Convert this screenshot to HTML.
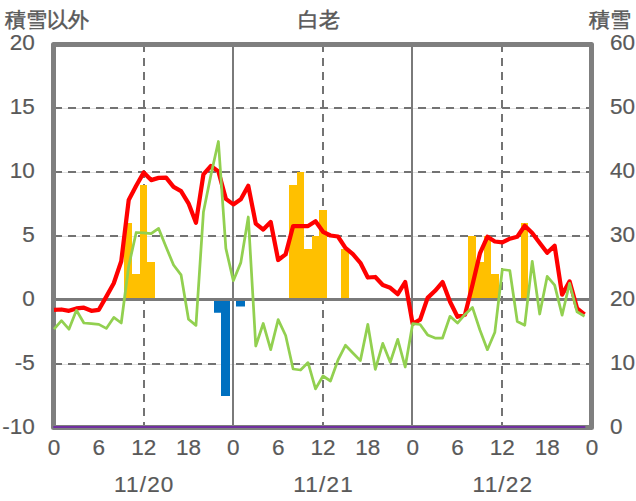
<!DOCTYPE html>
<html><head><meta charset="utf-8"><style>
html,body{margin:0;padding:0;background:#fff;width:636px;height:501px;overflow:hidden;position:relative;font-family:"Liberation Sans",sans-serif;}
</style></head><body>
<svg width="636" height="501" viewBox="0 0 636 501" style="position:absolute;left:0;top:0"><line x1="54.0" y1="108.5" x2="592.0" y2="108.5" stroke="#e0e0e0" stroke-width="1"/><line x1="54.0" y1="172.5" x2="592.0" y2="172.5" stroke="#e0e0e0" stroke-width="1"/><line x1="54.0" y1="236.5" x2="592.0" y2="236.5" stroke="#e0e0e0" stroke-width="1"/><line x1="54.0" y1="364.5" x2="592.0" y2="364.5" stroke="#e0e0e0" stroke-width="1"/><line x1="54.0" y1="108" x2="592.0" y2="108" stroke="#737373" stroke-width="2" stroke-dasharray="8 6"/><line x1="54.0" y1="172" x2="592.0" y2="172" stroke="#737373" stroke-width="2" stroke-dasharray="8 6"/><line x1="54.0" y1="236" x2="592.0" y2="236" stroke="#737373" stroke-width="2" stroke-dasharray="8 6"/><line x1="54.0" y1="364" x2="592.0" y2="364" stroke="#737373" stroke-width="2" stroke-dasharray="8 6"/><line x1="144.00" y1="44" x2="144.00" y2="428" stroke="#737373" stroke-width="2" stroke-dasharray="8 6"/><line x1="323.00" y1="44" x2="323.00" y2="428" stroke="#737373" stroke-width="2" stroke-dasharray="8 6"/><line x1="502.00" y1="44" x2="502.00" y2="428" stroke="#737373" stroke-width="2" stroke-dasharray="8 6"/><polygon points="124.00,300.00 124.00,223.00 132.00,223.00 132.00,274.00 140.00,274.00 140.00,185.00 147.00,185.00 147.00,262.00 155.00,262.00 155.00,300.00" fill="#ffc000"/><polygon points="289.00,300.00 289.00,185.00 297.00,185.00 297.00,172.00 304.00,172.00 304.00,249.00 312.00,249.00 312.00,236.00 319.00,236.00 319.00,210.00 327.00,210.00 327.00,300.00" fill="#ffc000"/><polygon points="341.00,300.00 341.00,249.00 349.00,249.00 349.00,300.00" fill="#ffc000"/><polygon points="468.00,300.00 468.00,236.00 476.00,236.00 476.00,262.00 484.00,262.00 484.00,236.00 491.00,236.00 491.00,274.00 499.00,274.00 499.00,300.00" fill="#ffc000"/><polygon points="521.00,300.00 521.00,223.00 528.00,223.00 528.00,300.00" fill="#ffc000"/><path d="M214 300H221V312.80H214Z M221 300H230V396.00H221Z M236 300H245V306.40H236Z" fill="#0070c0"/><line x1="54.0" y1="299.5" x2="592.0" y2="299.5" stroke="#7a7a7a" stroke-width="3"/><line x1="233.00" y1="44" x2="233.00" y2="428" stroke="#7a7a7a" stroke-width="2"/><line x1="412.00" y1="44" x2="412.00" y2="428" stroke="#7a7a7a" stroke-width="2"/><rect x="53.5" y="44.5" width="538" height="383" fill="none" stroke="#7f7f7f" stroke-width="5" stroke-linejoin="round"/><polyline points="54.00,309.80 61.47,309.50 68.94,310.80 76.42,308.40 83.89,307.70 91.36,310.80 98.83,309.80 106.31,296.60 113.78,283.20 121.25,261.20 128.72,200.00 136.19,185.80 143.67,172.60 151.14,180.10 158.61,177.90 166.08,177.60 173.56,186.80 181.03,191.10 188.50,203.30 195.97,222.80 203.44,174.40 210.92,166.00 218.39,171.40 225.86,198.90 233.33,204.40 240.81,199.20 248.28,185.80 255.75,223.60 263.22,229.60 270.69,222.00 278.17,260.00 285.64,254.40 293.11,226.00 300.58,226.00 308.06,226.00 315.53,221.30 323.00,231.80 330.47,235.50 337.94,236.50 345.42,247.90 352.89,254.20 360.36,262.80 367.83,277.50 375.31,277.00 382.78,285.00 390.25,287.80 397.72,294.20 405.19,282.00 412.67,323.80 420.14,319.60 427.61,297.90 435.08,290.80 442.56,282.10 450.03,301.80 457.50,316.80 464.97,314.80 472.44,285.00 479.92,253.40 487.39,236.80 494.86,241.50 502.33,242.30 509.81,238.70 517.28,236.80 524.75,225.80 532.22,233.00 539.69,243.00 547.17,252.80 554.64,245.80 562.11,294.70 569.58,281.40 577.06,308.30 584.53,314.30" fill="none" stroke="#ff0000" stroke-width="4.25" stroke-linejoin="round" stroke-linecap="butt"/><polyline points="54.00,329.20 61.47,320.70 68.94,329.20 76.42,310.30 83.89,323.00 91.36,323.70 98.83,324.40 106.31,328.40 113.78,317.40 121.25,323.00 128.72,266.00 136.19,232.50 143.67,232.90 151.14,233.70 158.61,228.40 166.08,247.00 173.56,265.00 181.03,274.80 188.50,319.20 195.97,325.40 203.44,212.10 210.92,175.00 218.39,141.50 225.86,248.40 233.33,280.70 240.81,262.60 248.28,217.00 255.75,346.00 263.22,323.50 270.69,349.70 278.17,319.70 285.64,335.50 293.11,369.00 300.58,370.00 308.06,362.60 315.53,388.90 323.00,376.00 330.47,381.00 337.94,360.20 345.42,345.30 352.89,353.00 360.36,360.60 367.83,324.40 375.31,369.30 382.78,343.40 390.25,362.30 397.72,339.40 405.19,367.00 412.67,323.70 420.14,324.50 427.61,334.90 435.08,338.00 442.56,338.00 450.03,316.30 457.50,323.10 464.97,314.40 472.44,307.40 479.92,330.00 487.39,349.70 494.86,332.20 502.33,269.50 509.81,270.50 517.28,321.50 524.75,325.20 532.22,261.30 539.69,314.00 547.17,276.40 554.64,285.20 562.11,315.20 569.58,283.30 577.06,311.80 584.53,316.30" fill="none" stroke="#92d050" stroke-width="2.75" stroke-linejoin="round" stroke-linecap="butt"/><line x1="54.0" y1="427" x2="584.53" y2="427" stroke="#7030a0" stroke-width="2" stroke-linecap="round"/></svg>
<svg width="636" height="501" style="position:absolute;left:0;top:0" font-family="Liberation Sans, sans-serif" fill="#595959"><text x="34.80" y="50.30" text-anchor="end" font-size="22.5" stroke="#595959" stroke-width="0.2">20</text><text x="34.80" y="114.30" text-anchor="end" font-size="22.5" stroke="#595959" stroke-width="0.2">15</text><text x="34.80" y="178.30" text-anchor="end" font-size="22.5" stroke="#595959" stroke-width="0.2">10</text><text x="34.80" y="242.30" text-anchor="end" font-size="22.5" stroke="#595959" stroke-width="0.2">5</text><text x="34.80" y="306.30" text-anchor="end" font-size="22.5" stroke="#595959" stroke-width="0.2">0</text><text x="34.80" y="370.30" text-anchor="end" font-size="22.5" stroke="#595959" stroke-width="0.2">-5</text><text x="34.80" y="434.30" text-anchor="end" font-size="22.5" stroke="#595959" stroke-width="0.2">-10</text><text x="610.00" y="50.30" text-anchor="start" font-size="22.5" stroke="#595959" stroke-width="0.2">60</text><text x="610.00" y="114.30" text-anchor="start" font-size="22.5" stroke="#595959" stroke-width="0.2">50</text><text x="610.00" y="178.30" text-anchor="start" font-size="22.5" stroke="#595959" stroke-width="0.2">40</text><text x="610.00" y="242.30" text-anchor="start" font-size="22.5" stroke="#595959" stroke-width="0.2">30</text><text x="610.00" y="306.30" text-anchor="start" font-size="22.5" stroke="#595959" stroke-width="0.2">20</text><text x="610.00" y="370.30" text-anchor="start" font-size="22.5" stroke="#595959" stroke-width="0.2">10</text><text x="610.00" y="434.30" text-anchor="start" font-size="22.5" stroke="#595959" stroke-width="0.2">0</text><text x="54.00" y="455.20" text-anchor="middle" font-size="22.5" stroke="#595959" stroke-width="0.2">0</text><text x="98.83" y="455.20" text-anchor="middle" font-size="22.5" stroke="#595959" stroke-width="0.2">6</text><text x="143.67" y="455.20" text-anchor="middle" font-size="22.5" stroke="#595959" stroke-width="0.2">12</text><text x="188.50" y="455.20" text-anchor="middle" font-size="22.5" stroke="#595959" stroke-width="0.2">18</text><text x="233.33" y="455.20" text-anchor="middle" font-size="22.5" stroke="#595959" stroke-width="0.2">0</text><text x="278.17" y="455.20" text-anchor="middle" font-size="22.5" stroke="#595959" stroke-width="0.2">6</text><text x="323.00" y="455.20" text-anchor="middle" font-size="22.5" stroke="#595959" stroke-width="0.2">12</text><text x="367.83" y="455.20" text-anchor="middle" font-size="22.5" stroke="#595959" stroke-width="0.2">18</text><text x="412.67" y="455.20" text-anchor="middle" font-size="22.5" stroke="#595959" stroke-width="0.2">0</text><text x="457.50" y="455.20" text-anchor="middle" font-size="22.5" stroke="#595959" stroke-width="0.2">6</text><text x="502.33" y="455.20" text-anchor="middle" font-size="22.5" stroke="#595959" stroke-width="0.2">12</text><text x="547.17" y="455.20" text-anchor="middle" font-size="22.5" stroke="#595959" stroke-width="0.2">18</text><text x="592.00" y="455.20" text-anchor="middle" font-size="22.5" stroke="#595959" stroke-width="0.2">0</text><text x="144.27" y="492.00" text-anchor="middle" font-size="22.5" stroke="#595959" stroke-width="0.2" letter-spacing="1.2">11/20</text><text x="323.60" y="492.00" text-anchor="middle" font-size="22.5" stroke="#595959" stroke-width="0.2" letter-spacing="1.2">11/21</text><text x="502.93" y="492.00" text-anchor="middle" font-size="22.5" stroke="#595959" stroke-width="0.2" letter-spacing="1.2">11/22</text><text x="5.00" y="27.30" text-anchor="start" font-size="21" stroke="#595959" stroke-width="0.5">積雪以外</text><text x="318.70" y="27.30" text-anchor="middle" font-size="21" stroke="#595959" stroke-width="0.5">白老</text><text x="589.00" y="27.30" text-anchor="start" font-size="21" stroke="#595959" stroke-width="0.5">積雪</text></svg>
</body></html>
